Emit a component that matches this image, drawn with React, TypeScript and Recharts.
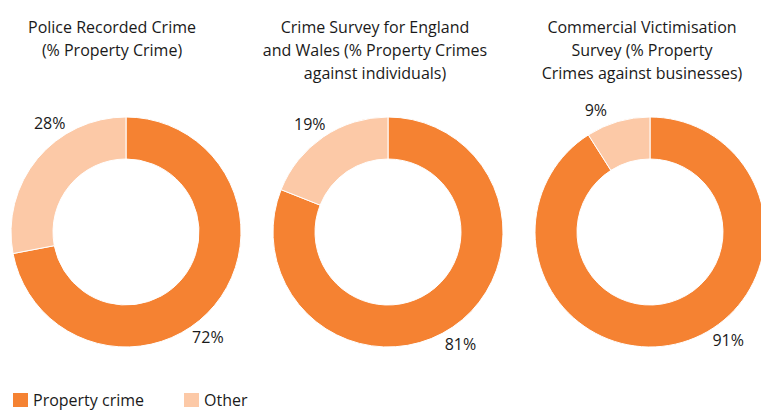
import React from 'react';
import { PieChart, Pie, Cell, Legend } from 'recharts';

const categories = ['Property crime', 'Other'];
const policeRecorded = [72, 28];
const crimeSurvey = [81, 19];
const commercialSurvey = [91, 9];

const titlePolice = ['Police Recorded Crime', '(% Property Crime)'];
const titleSurvey = ['Crime Survey for England', 'and Wales (% Property Crimes', 'against individuals)'];
const titleCommercial = ['Commercial Victimisation', 'Survey (% Property', 'Crimes against businesses)'];

const COLORS = ['#F58232', '#FCC9A7'];
const FONT = '"Open Sans", sans-serif';
const FS = 16;

// label direction (degrees) for [Property crime, Other] in each donut, as placed in the source
const labelDirs = [
  [-52, 125],
  [-57, 126],
  [-54, 114],
];

const series = [policeRecorded, crimeSurvey, commercialSurvey];
const titles = [titlePolice, titleSurvey, titleCommercial];
const centersX = [126, 388, 650];
const titleX = [112, 375, 642];

const RAD = Math.PI / 180;

const makeLabel = (chartIdx: number) => (props: any) => {
  const { cx, cy, outerRadius, index, value } = props;
  const ang = labelDirs[chartIdx][index];
  const r = outerRadius + 18;
  const x = cx + r * Math.cos(ang * RAD);
  const y = cy - r * Math.sin(ang * RAD);
  return (
    <text x={x} y={y} textAnchor="middle" dominantBaseline="central" fill="#1a1a1a" fontSize={FS} fontFamily={FONT}>
      {value}%
    </text>
  );
};

const LegendContent = () => (
  <div style={{ display: 'flex', fontFamily: FONT, fontSize: FS, color: '#1a1a1a', lineHeight: '16px' }}>
    {categories.map((c, i) => (
      <div key={c} style={{ display: 'flex', alignItems: 'center', width: i === 0 ? 171 : 100 }}>
        <span style={{ display: 'inline-block', width: 15, height: 14, background: COLORS[i], marginRight: 5 }} />
        <span>{c}</span>
      </div>
    ))}
  </div>
);

export default function App() {
  return (
    <div style={{ position: 'absolute', left: 0, top: 0, width: 761, height: 410, background: '#fff' }}>
      <PieChart width={761} height={410} margin={{ top: 0, right: 0, bottom: 0, left: 0 }}>
        {series.map((vals, ci) => {
          const data = categories.map((name, i) => ({ name, value: vals[i] }));
          return (
            <Pie
              key={ci}
              data={data}
              dataKey="value"
              nameKey="name"
              cx={centersX[ci]}
              cy={232}
              innerRadius={73}
              outerRadius={115}
              startAngle={90}
              endAngle={-270}
              stroke="#fff"
              strokeWidth={1}
              label={makeLabel(ci)}
              labelLine={false}
              isAnimationActive={false}
            >
              {data.map((d, i) => (
                <Cell key={d.name} fill={COLORS[i]} />
              ))}
            </Pie>
          );
        })}
        {titles.map((lines, ci) => (
          <text key={'t' + ci} x={titleX[ci]} y={27} textAnchor="middle" fill="#1a1a1a" fontSize={FS} fontFamily={FONT}>
            {lines.map((l, li) => (
              <tspan key={li} x={titleX[ci]} y={27 + li * 23} dominantBaseline="central">
                {l}
              </tspan>
            ))}
          </text>
        ))}
        <Legend
          content={<LegendContent />}
          wrapperStyle={{ position: 'absolute', left: 13, top: 392, width: 400, height: 16 }}
        />
      </PieChart>
    </div>
  );
}
